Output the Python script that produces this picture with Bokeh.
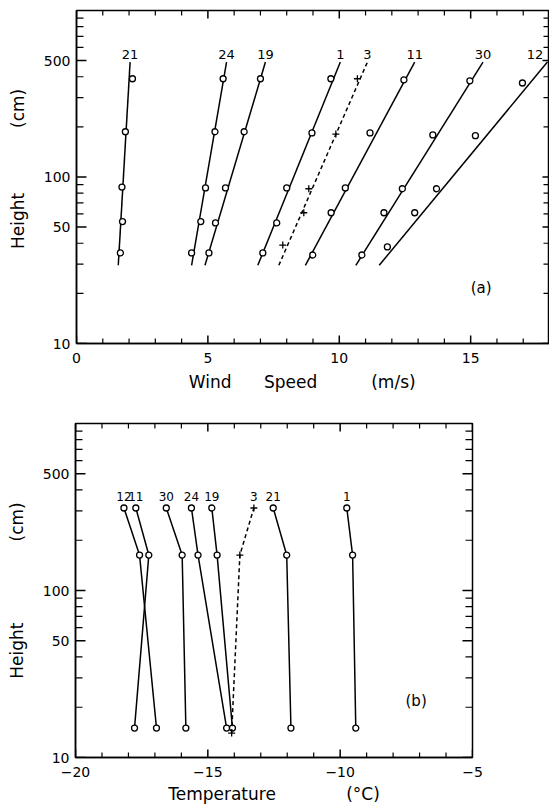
import math
from bokeh.plotting import figure
from bokeh.models import FixedTicker, BasicTickFormatter, Label, Range1d
from bokeh.layouts import column
from bokeh.embed import file_html
from bokeh.resources import INLINE
from bokeh.core.properties import value

# ---------------- data: panel (a) wind speed profiles ----------------
RUNS_A = ["21", "24", "19", "1", "3", "11", "30", "12"]
U21 = [1.67, 1.75, 1.73, 1.86, 2.13]
U24 = [4.38, 4.73, 4.91, 5.27, 5.58]
U19 = [5.04, 5.29, 5.67, 6.38, 7.00]
U1 = [7.09, 7.62, 8.00, 8.96, 9.68]
U3 = [7.85, 8.65, 8.84, 9.87, 10.69]
U11 = [8.99, 9.69, 10.23, 11.17, 12.46]
U30 = [10.86, 11.70, 12.40, 13.56, 14.97]
U12 = [11.83, 12.87, 13.70, 15.18, 16.97]
Z21 = [35, 54, 87, 187, 389]
Z24 = [35, 54, 86, 187, 389]
Z19 = [35, 53, 86, 187, 389]
Z1 = [35, 53, 86, 184, 389]
Z3 = [39, 61, 85, 181, 389]
Z11 = [34, 61, 86, 184, 383]
Z30 = [34, 61, 85, 179, 378]
Z12 = [38, 61, 85, 177, 367]
# fitted log-profile lines: speed at lower and upper end
FIT_Z = [29.5, 490]
FIT_LO = [1.59, 4.38, 4.89, 6.90, 7.70, 8.71, 10.63, 11.52]
FIT_HI = [2.04, 5.71, 7.19, 10.04, 11.07, 12.87, 15.47, 17.92]

# ---------------- data: panel (b) temperature profiles ----------------
RUNS_B = ["12", "11", "30", "24", "19", "3", "21", "1"]
Z_B = [15, 163, 312]
Z_B3 = [14, 163, 312]
T12 = [-16.94, -17.58, -18.17]
T11 = [-17.77, -17.23, -17.72]
T30 = [-15.83, -15.97, -16.57]
T24 = [-14.29, -15.37, -15.62]
T19 = [-14.07, -14.65, -14.85]
T3 = [-14.10, -13.79, -13.26]
T21 = [-11.86, -12.02, -12.53]
T1 = [-9.41, -9.53, -9.75]

X_TICKS_A = [0, 5, 10, 15]
X_MINOR_A = [1, 2, 3, 4, 6, 7, 8, 9, 11, 12, 13, 14, 16, 17]
X_TICKS_B = [-20, -15, -10, -5]
X_MINOR_B = [-19, -18, -17, -16, -14, -13, -12, -11, -9, -8, -7, -6]
Y_TICKS = [10, 50, 100, 500]
Y_MINOR = [20, 30, 40, 60, 70, 80, 90, 200, 300, 400, 600, 700, 800, 900]

FONT = "DejaVu Sans"
NB = "\u00a0"


def make_fig(w, h, xr, left, right, top, bottom):
    p = figure(width=w, height=h, x_range=Range1d(*xr), y_range=Range1d(10, 1000),
               y_axis_type="log", output_backend="svg", toolbar_location=None,
               min_border_left=left, min_border_right=right,
               min_border_top=top, min_border_bottom=bottom)
    p.frame_align = False
    p.xgrid.visible = False
    p.ygrid.visible = False
    p.outline_line_color = "black"
    p.outline_line_width = 1.5
    p.background_fill_color = "white"
    p.border_fill_color = "white"
    return p


def style(ax):
    ax.axis_line_color = "black"
    ax.axis_line_width = 1.5
    ax.major_tick_in = 0
    ax.major_tick_out = 0
    ax.minor_tick_in = 0
    ax.minor_tick_out = 0
    ax.major_tick_line_color = None
    ax.minor_tick_line_color = None
    ax.major_label_text_font = FONT
    ax.major_label_text_font_size = "14px"
    ax.major_label_text_color = "black"
    ax.axis_label_text_font = FONT
    ax.axis_label_text_font_size = "17px"
    ax.axis_label_text_font_style = "normal"
    ax.axis_label_text_color = "black"


def tick_marks(p, xr, xt, xminor, xmaj_len, xmin_len, ymaj_len, ymin_len, rmaj_len, rmin_len):
    """Inward tick marks on all four sides, drawn from the tick lists."""
    x0, x1 = xr
    y0, y1 = 10, 1000
    kw = dict(line_color="black", length_units="screen")
    # bottom and top
    p.ray(x=xt, y=[y0] * len(xt), length=xmaj_len, angle=math.pi / 2, line_width=1.5, **kw)
    p.ray(x=xminor, y=[y0] * len(xminor), length=xmin_len, angle=math.pi / 2, line_width=1.2, **kw)
    p.ray(x=xt, y=[y1] * len(xt), length=xmaj_len, angle=-math.pi / 2, line_width=1.5, **kw)
    p.ray(x=xminor, y=[y1] * len(xminor), length=xmin_len, angle=-math.pi / 2, line_width=1.2, **kw)
    # left and right
    p.ray(x=[x0] * len(Y_TICKS), y=Y_TICKS, length=ymaj_len, angle=0, line_width=1.5, **kw)
    p.ray(x=[x0] * len(Y_MINOR), y=Y_MINOR, length=ymin_len, angle=0, line_width=1.2, **kw)
    p.ray(x=[x1] * len(Y_TICKS), y=Y_TICKS, length=rmaj_len, angle=math.pi, line_width=1.5, **kw)
    p.ray(x=[x1] * len(Y_MINOR), y=Y_MINOR, length=rmin_len, angle=math.pi, line_width=1.2, **kw)


def setup_axes(p, xt):
    xa = p.xaxis[0]
    ya = p.yaxis[0]
    xa.ticker = FixedTicker(ticks=xt)
    ya.ticker = FixedTicker(ticks=Y_TICKS)
    ya.formatter = BasicTickFormatter()
    style(xa)
    style(ya)
    xa.major_label_standoff = 9
    ya.major_label_standoff = 6
    return xa, ya


# ---------------- panel (a) ----------------
XR_A = (0, 18)
pa = make_fig(549, 400, XR_A, 76, 0, 10, 57)
xa, ya = setup_axes(pa, X_TICKS_A)
xa.axis_label = "Wind" + NB * 6 + "Speed" + NB * 10 + "(m/s)" + NB * 4
xa.axis_label_standoff = 6
ya.axis_label = NB * 3 + "Height" + NB * 12 + "(cm)"
ya.axis_label_standoff = 13
tick_marks(pa, XR_A, X_TICKS_A, X_MINOR_A, 8, 5, 10, 7, 7, 6)

U_A = [U21, U24, U19, U1, U3, U11, U30, U12]
Z_A = [Z21, Z24, Z19, Z1, Z3, Z11, Z30, Z12]
for run, u, z, lo, hi in zip(RUNS_A, U_A, Z_A, FIT_LO, FIT_HI):
    dash = "4 3" if run == "3" else "solid"
    pa.line([lo, hi], FIT_Z, line_color="black", line_width=1.5, line_dash=dash)
    if run == "3":
        pa.scatter(u, z, marker="cross", size=7, line_color="black", line_width=1.3)
    else:
        pa.scatter(u, z, marker="circle", size=6, line_color="black",
                   fill_color="white", line_width=1.3)

label_x_a = [min(h, 17.45) for h in FIT_HI]
pa.text(x=label_x_a, y=[FIT_Z[1]] * len(RUNS_A), text=RUNS_A,
        text_font=value(FONT), text_font_size=value("13px"), text_color="black",
        text_align="center", text_baseline="bottom", y_offset=-3)
pa.add_layout(Label(x=15.4, y=21.4, text="(a)", text_font=FONT, text_font_size="15px",
                    text_align="center", text_baseline="middle", text_color="black"))

# ---------------- panel (b) ----------------
XR_B = (-20, -5)
pb = make_fig(549, 407, XR_B, 75, 77, 23, 50)
xb, yb = setup_axes(pb, X_TICKS_B)
xb.axis_label = "Temperature" + NB * 13 + "(°C)"
xb.axis_label_standoff = 4
yb.axis_label = "Height" + NB * 15 + "(cm)"
yb.axis_label_standoff = 13
tick_marks(pb, XR_B, X_TICKS_B, X_MINOR_B, 8, 5, 10, 7, 10, 7)

T_B = [T12, T11, T30, T24, T19, T3, T21, T1]
for run, t in zip(RUNS_B, T_B):
    if run == "3":
        pb.line(t, Z_B3, line_color="black", line_width=1.5, line_dash="4 3")
        pb.scatter(t, Z_B3, marker="cross", size=7, line_color="black", line_width=1.3)
    else:
        pb.line(t, Z_B, line_color="black", line_width=1.5)
        pb.scatter(t, Z_B, marker="circle", size=6, line_color="black",
                   fill_color="white", line_width=1.3)

pb.text(x=[t[2] for t in T_B], y=[Z_B[2]] * len(RUNS_B), text=RUNS_B,
        text_font=value(FONT), text_font_size=value("12px"), text_color="black",
        text_align="center", text_baseline="bottom", y_offset=-7)
pb.add_layout(Label(x=-7.13, y=21.9, text="(b)", text_font=FONT, text_font_size="15px",
                    text_align="center", text_baseline="middle", text_color="black"))

layout = column(pa, pb, spacing=0)
open("out.html", "w").write(file_html(layout, INLINE))
